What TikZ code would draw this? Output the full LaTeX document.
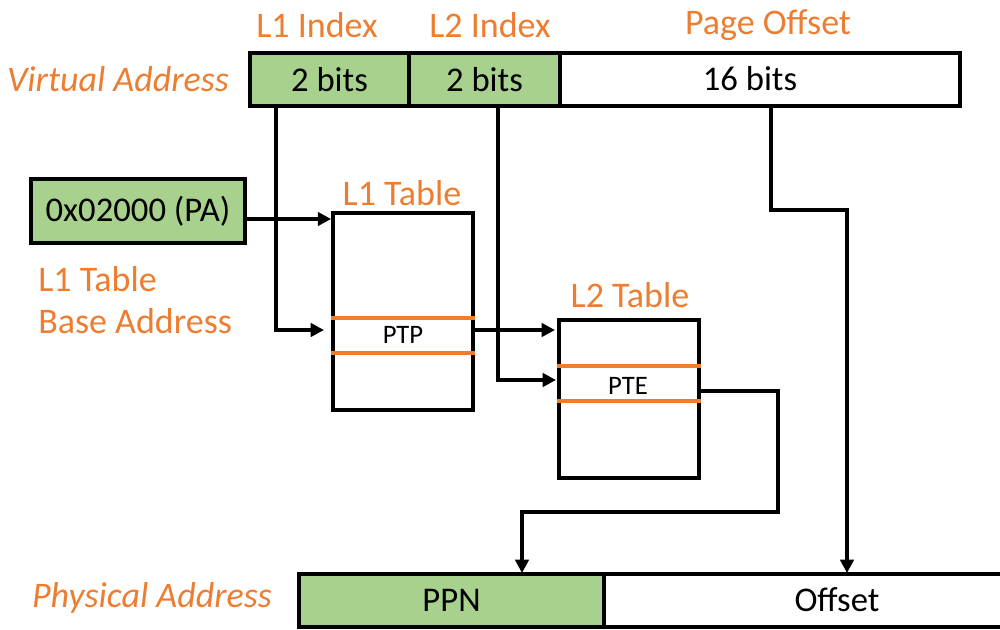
\documentclass[tikz,border=0pt]{standalone}
\usepackage{fontspec}
\setmainfont{Carlito}
\usetikzlibrary{fit,arrows.meta}
\definecolor{orng}{HTML}{ED7D31}
\definecolor{grn}{HTML}{A9D18E}
\begin{document}
\begin{tikzpicture}[x=0.75pt,y=-0.75pt,
 box/.style={draw=black, line width=2.8pt, inner sep=0pt},
 gbox/.style={box, fill=grn},
 btxt/.style={font=\fontsize{26}{30}\selectfont, inner sep=0pt},
 lbl/.style={text=orng, font=\fontsize{27}{32}\selectfont, inner sep=0pt},
 ilbl/.style={lbl, font=\fontsize{27}{32}\selectfont\itshape},
 entry/.style={font=\fontsize{20}{24}\selectfont, inner sep=0pt},
 conn/.style={line width=2.8pt, -{Triangle[length=10pt,width=10pt]}},
 rowline/.style={draw=orng, line width=2.6pt}]
\useasboundingbox (0,0) rectangle (1000,629);
% Virtual address
\node[gbox, fit={(250,53) (409,106)}] (v1) {};
\node[gbox, fit={(409,53) (560,106)}] (v2) {};
\node[box, fit={(560,53) (960,106)}] (v3) {};
\node[btxt] (v1t) at (v1.center) {2 bits};
\node[btxt] (v2t) at (v2.center) {2 bits};
\node[btxt] (v3t) at (750,79) {16 bits};
\node[lbl] (l1i) at (317,25) {L1 Index};
\node[lbl] (l2i) at (490,25) {L2 Index};
\node[lbl] (po) at (768,25) {Page Offset};
\node[ilbl] (va) at (118,79) {Virtual Address};
% base
\node[gbox, fit={(31,179) (245,243)}] (pa) {};
\node[btxt] (pat) at (pa.center) {0x02000 (PA)};
\node[lbl, anchor=west] (bl1) at (38,279) {L1 Table};
\node[lbl, anchor=west] (bl2) at (38,321) {Base Address};
% L1 table
\node[box, fit={(333,213) (473,410)}] (t1) {};
\node[lbl] (t1l) at (402,193) {L1 Table};
\draw[rowline] (t1.west |- 0,318) -- (t1.east |- 0,318);
\draw[rowline] (t1.west |- 0,353) -- (t1.east |- 0,353);
\node[entry] (ptp) at (403,335) {PTP};
% L2 table
\node[box, fit={(559,320) (699,478)}] (t2) {};
\node[lbl] (t2l) at (630,295) {L2 Table};
\draw[rowline] (t2.west |- 0,366) -- (t2.east |- 0,366);
\draw[rowline] (t2.west |- 0,401) -- (t2.east |- 0,401);
\node[entry] (pte) at (628,386) {PTE};
% Physical address
\node[gbox, fit={(299,574) (604,627)}] (ppn) {};
\node[box, fit={(604,574) (1070,627)}] (off) {};
\node[btxt] (ppnt) at (ppn.center) {PPN};
\node[btxt] (offt) at (837,600) {Offset};
\node[ilbl] (phy) at (152,598) {Physical Address};
% connectors
\coordinate (c1) at (276,107);
\coordinate (c2) at (498,107);
\coordinate (c3) at (771,107);
\coordinate (c4) at (699,391);
\draw[conn] (pa.east |- 0,219) -- (t1.west |- 0,219);
\draw[conn] (c1) |- (324,330);
\draw[conn] (t1.east |- 0,330) -- (555,330);
\draw[conn] (c2) |- (556,380);
\draw[conn] (c3) |- (847,210) -- (847,573);
\draw[conn] (c4) -| (778,512) -| (522,573);
\end{tikzpicture}
\end{document}
